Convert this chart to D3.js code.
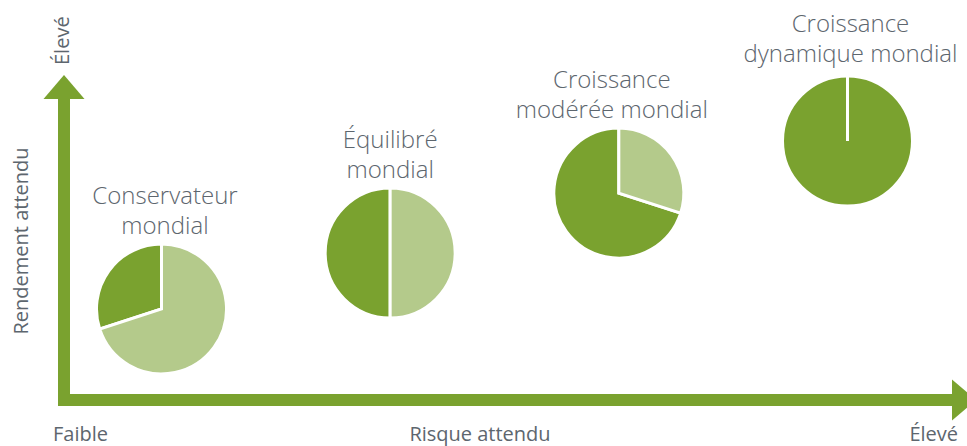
<!DOCTYPE html>
<html>
<head>
<meta charset="utf-8">
<script src="https://cdn.jsdelivr.net/npm/d3@7"></script>
<style>
  html, body { margin: 0; padding: 0; background: #ffffff; }
  svg { display: block; }
  text { font-family: "Open Sans", Lato, sans-serif; fill: #5d666e; }
</style>
</head>
<body>
<svg id="chart" width="967" height="446"></svg>
<script>
// ---- data ----
const portfolios = [
  ["Conservateur", "mondial"],
  ["Équilibré", "mondial"],
  ["Croissance", "modérée mondial"],
  ["Croissance", "dynamique mondial"]
];
const riskLevel   = [1, 2, 3, 4];
const returnLevel = [1, 2, 3.07, 4];
const fixedIncome = [70, 50, 30, 0];   // light green share
const equities    = [30, 50, 70, 100]; // dark green share
const axisLabels = { xLow: "Faible", xTitle: "Risque attendu", xHigh: "Élevé",
                     yTitle: "Rendement attendu", yHigh: "Élevé" };

// ---- drawing ----
const W = 967, H = 446;
const svg = d3.select("#chart");
const dark = "#7aa22f", light = "#b4ca8b";

const x = d3.scaleLinear().domain([1, 4]).range([161.5, 847.5]);
const y = d3.scaleLinear().domain([1, 4]).range([309, 141]);

// axes arrows
const g = svg.append("g");
g.append("rect").attr("x", 58).attr("y", 98).attr("width", 12).attr("height", 308).attr("fill", dark);
g.append("path").attr("d", "M43.5,99 L64,75 L84.5,99 Z").attr("fill", dark);
g.append("rect").attr("x", 58).attr("y", 394).attr("width", 895).attr("height", 12).attr("fill", dark);
g.append("path").attr("d", "M952,379.5 L976,400 L952,420.5 Z").attr("fill", dark);

// axis labels
const fs = 20;
svg.append("text").attr("x", 53).attr("y", 441).attr("font-size", fs).text(axisLabels.xLow);
svg.append("text").attr("x", 480).attr("y", 441).attr("font-size", fs).attr("text-anchor", "middle").text(axisLabels.xTitle);
svg.append("text").attr("x", 958).attr("y", 441).attr("font-size", fs).attr("text-anchor", "end").text(axisLabels.xHigh);
svg.append("text").attr("transform", "translate(28,241) rotate(-90)").attr("font-size", fs)
  .attr("text-anchor", "middle").text(axisLabels.yTitle);
svg.append("text").attr("transform", "translate(69,65) rotate(-90)").attr("font-size", fs)
  .text(axisLabels.yHigh);

// pies
const pie = d3.pie().sort(null).value(d => d.v);
const arc = d3.arc().innerRadius(0).outerRadius(65);

const labelDx = [3.5, 0, -7, 3];
portfolios.forEach((lines, i) => {
  const cx = x(riskLevel[i]), cy = y(returnLevel[i]);
  const slices = pie([{ v: fixedIncome[i], c: light }, { v: equities[i], c: dark }]);
  const pg = svg.append("g").attr("transform", `translate(${cx},${cy})`);
  pg.selectAll("path").data(slices.slice().reverse()).join("path")
    .attr("d", arc).attr("fill", d => d.data.c)
    .attr("stroke", "#ffffff").attr("stroke-width", 3);
  const t = svg.append("text").attr("font-size", 24).attr("font-weight", 300)
    .attr("text-anchor", "middle");
  const base = cy - (i === 3 ? 79 : 75);
  lines.forEach((ln, j) => {
    t.append("tspan").attr("x", cx + labelDx[i])
      .attr("y", base - (lines.length - 1 - j) * 30).text(ln);
  });
});
</script>
</body>
</html>
